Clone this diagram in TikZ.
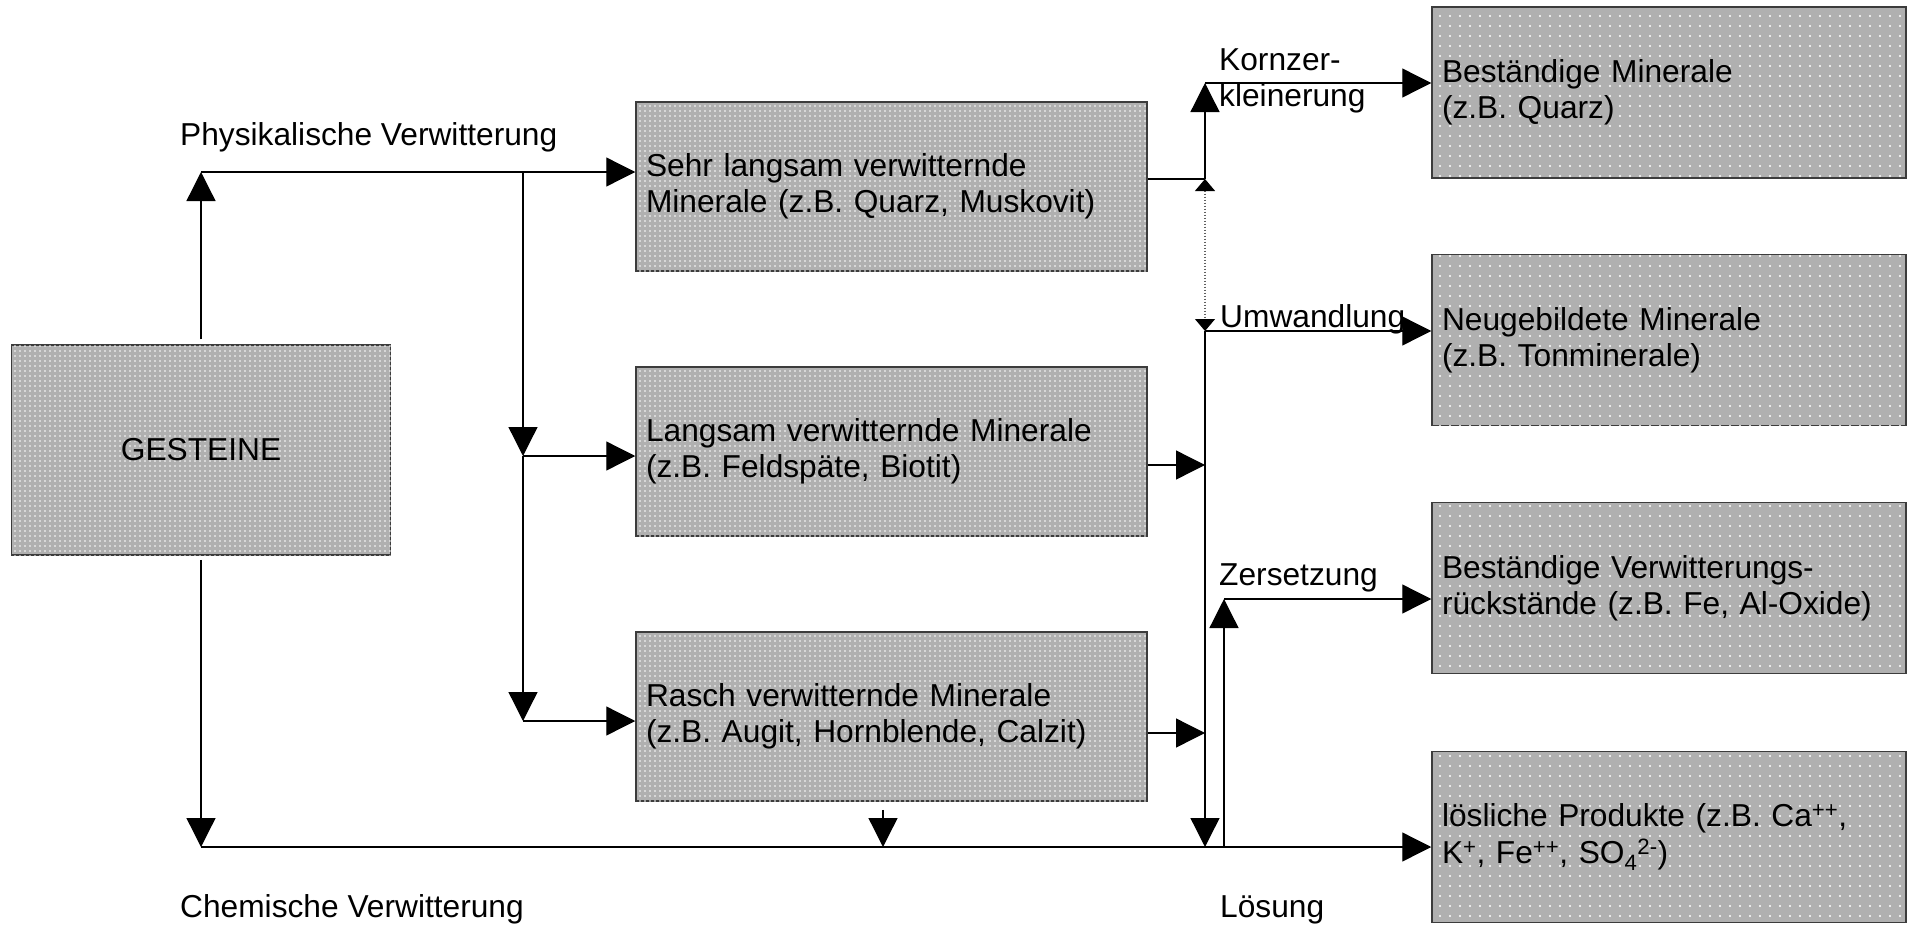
\documentclass[tikz,border=0pt]{standalone}
\usepackage{fontspec}
\setmainfont{Liberation Sans}
\usetikzlibrary{arrows.meta,patterns.meta}

\definecolor{boxgray}{RGB}{176,176,176}
\definecolor{edgegray}{RGB}{60,60,60}
\definecolor{dotgray}{RGB}{95,95,95}

\tikzset{
  txt/.style={font=\fontsize{31.7pt}{36.4pt}\selectfont},
  label/.style={txt, inner sep=0pt, anchor=base west, align=left},
  box/.style={txt, draw=edgegray, line width=1.5pt, fill=boxgray,
    inner xsep=10pt, inner ysep=0pt, align=left, anchor=center},
  densebox/.style={box, postaction={pattern={Dots[distance=5pt, radius=0.95pt]}, pattern color=white}},
  sparsebox/.style={box, postaction={pattern={Dots[distance=10pt, radius=1.1pt]}, pattern color=white}},
  leftbox/.style={densebox, minimum width=511pt, minimum height=169pt, text width=491pt},
  rightbox/.style={sparsebox, minimum width=474pt, minimum height=171pt, text width=454pt},
  arr/.style={line width=1.3pt, -{Triangle[length=29pt,width=29pt]}},
  link/.style={line width=1.3pt},
  dotlink/.style={draw=dotgray, line width=1.2pt, dash pattern=on 1.5pt off 1.5pt,
    {Triangle[length=12pt,width=20pt,color=black]}-{Triangle[length=12pt,width=20pt,color=black]}}
}

\begin{document}
\begin{tikzpicture}[x=1pt, y=-1pt]
  \useasboundingbox (0,0) rectangle (1907,926);

  % rock source
  \node[densebox, minimum width=379pt, minimum height=210pt, text width=359pt, align=center]
    (g) at (201,450) {GESTEINE};

  % minerals by weathering rate
  \node[leftbox] (s) at (891.5,186.5) {Sehr langsam verwitternde\\Minerale (z.B. Quarz, Muskovit)};
  \node[leftbox] (l) at (891.5,451.5) {Langsam verwitternde Minerale\\(z.B. Feldspäte, Biotit)};
  \node[leftbox] (r) at (891.5,716.5) {Rasch verwitternde Minerale\\(z.B. Augit, Hornblende, Calzit)};

  % weathering products
  \node[rightbox] (b) at (1669,92.5) {Beständige Minerale\\(z.B. Quarz)};
  \node[rightbox] (n) at (1669,340) {Neugebildete Minerale\\(z.B. Tonminerale)};
  \node[rightbox] (v) at (1669,588) {Beständige Verwitterungs-\\rückstände (z.B. Fe, Al-Oxide)};
  \node[rightbox] (p) at (1669,837) {lösliche Produkte (z.B. Ca\textsuperscript{++},\\K\textsuperscript{+}, Fe\textsuperscript{++}, SO\textsubscript{4}\textsuperscript{2-})};

  % junction points
  \coordinate (pv) at (201,172);
  \coordinate (bt) at (523,172);
  \coordinate (ba) at (523,456);
  \coordinate (bb) at (523,721);
  \coordinate (cv) at (201,847);
  \coordinate (rd) at (883,847);
  \coordinate (ka) at (1205,179);
  \coordinate (kt) at (1205,83);
  \coordinate (um) at (1205,331);
  \coordinate (la) at (1205,465);
  \coordinate (lb) at (1205,733);
  \coordinate (lv) at (1205,847);
  \coordinate (zb) at (1224,847);
  \coordinate (zt) at (1224,599);

  % physical weathering
  \draw[arr, shorten <=5pt] (g.north) -- (pv);
  \draw[arr] (pv) -- (pv -| s.west);
  \draw[arr] (bt) -- (ba);
  \draw[arr] (ba) -- (bb);
  \draw[arr] (ba) -- (ba -| l.west);
  \draw[arr] (bb) -- (bb -| r.west);

  % chemical weathering
  \draw[arr, shorten <=4pt] (g.south) -- (cv);
  \draw[arr] (cv) -- (cv -| p.west);
  \draw[arr, shorten <=8pt] (r.south -| rd) -- (rd);

  % collecting line on the right
  \draw[link] (ka -| s.east) -- (ka);
  \draw[arr] (ka) -- (kt);
  \draw[arr] (kt) -- (kt -| b.west);
  \draw[dotlink] (ka) -- (um);
  \draw[arr] (um) -- (um -| n.west);
  \draw[arr] (um) -- (lv);
  \draw[arr] (la -| l.east) -- (la);
  \draw[arr] (lb -| r.east) -- (lb);
  \draw[arr] (zb) -- (zt);
  \draw[arr] (zt) -- (zt -| v.west);

  % process labels (base anchor sits on the last line)
  \node[label] (tp) at (180,145) {Physikalische Verwitterung};
  \node[label] (tc) at (180,917) {Chemische Verwitterung};
  \node[label] (tk) at (1219,106.5) {Kornzer-\\kleinerung};
  \node[label] (tu) at (1220,327) {Umwandlung};
  \node[label] (tz) at (1219,585) {Zersetzung};
  \node[label] (tl) at (1220,917) {Lösung};
\end{tikzpicture}
\end{document}
